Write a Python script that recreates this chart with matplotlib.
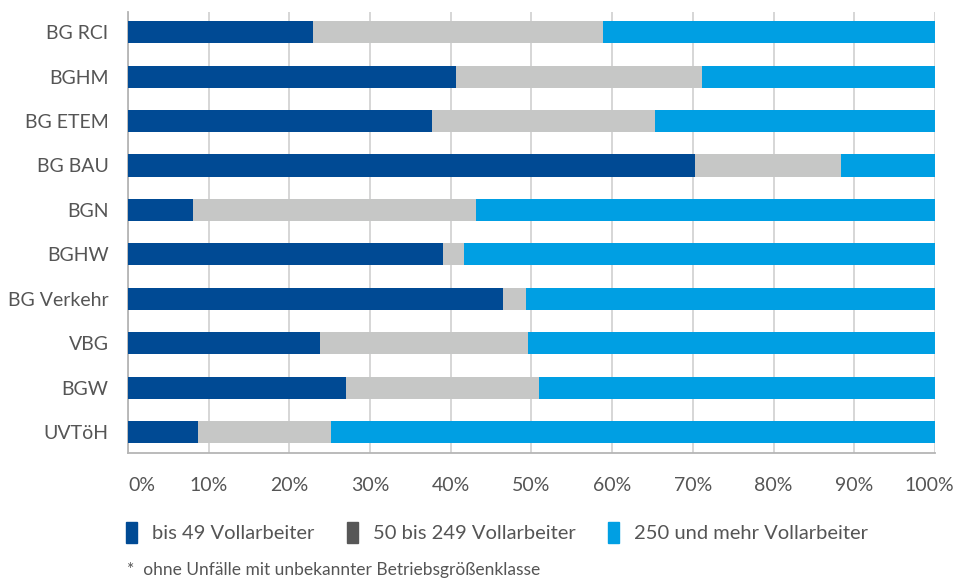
import numpy as np
import matplotlib as mpl
mpl.use("Agg")
import matplotlib.pyplot as plt
from matplotlib.patches import Patch
from matplotlib.transforms import ScaledTranslation

plt.rcParams['font.family'] = ['Lato', 'DejaVu Sans']

### data (share in percent)
categories = ["BG RCI", "BGHM", "BG ETEM", "BG BAU", "BGN", "BGHW",
              "BG Verkehr", "VBG", "BGW", "UVTöH"]
bis49 = [22.9, 40.6, 37.7, 70.3, 8.1, 39.0, 46.5, 23.8, 27.0, 8.7]
bis249 = [36.0, 30.5, 27.6, 18.1, 35.0, 2.6, 2.8, 25.8, 23.9, 16.5]
ab250 = [41.1, 28.9, 34.7, 11.6, 56.9, 58.4, 50.7, 50.4, 49.1, 74.8]
series_names = ["bis 49 Vollarbeiter", "50 bis 249 Vollarbeiter", "250 und mehr Vollarbeiter"]
xticks = [0, 10, 20, 30, 40, 50, 60, 70, 80, 90, 100]

c_dark = "#004a94"
c_grey = "#c6c7c6"
c_light = "#009fe3"
c_text = "#555555"

fig = plt.figure(figsize=(9.55, 5.8), dpi=100)
ax = fig.add_axes([0.134, 0.219, 0.845, 0.76])

y = np.arange(len(categories))
left1 = np.array(bis49)
left2 = left1 + np.array(bis249)
ax.barh(y, bis49, height=0.5, color=c_dark, zorder=3)
ax.barh(y, bis249, left=left1, height=0.5, color=c_grey, zorder=3)
ax.barh(y, ab250, left=left2, height=0.5, color=c_light, zorder=3)

ax.set_xlim(0, 100)
ax.set_ylim(len(categories) - 0.53, -0.45)
ax.set_yticks(y)
ax.set_yticklabels(categories)
ax.set_xticks(xticks)
ax.set_xticklabels([str(t) + "%" for t in xticks])
ax.tick_params(axis='both', length=0, labelsize=14, labelcolor=c_text)
ax.tick_params(axis='y', pad=14)
ax.tick_params(axis='x', pad=17)
xl = ax.get_xticklabels()
xl[0].set_ha('left')
xl[-1].set_ha('right')
xl[-1].set_transform(xl[-1].get_transform() + ScaledTranslation(0.19, 0, fig.dpi_scale_trans))

ax.grid(axis='x', color="#d0d0d0", linewidth=1.2, zorder=0)
for s in ['top', 'right']:
  ax.spines[s].set_visible(False)
for s in ['left', 'bottom']:
  ax.spines[s].set_color("#b5b5b5")
  ax.spines[s].set_linewidth(1.3)

handles = [Patch(color=c_dark), Patch(color="#575757"), Patch(color=c_light)]
fig.legend(handles, series_names, loc='center left', bbox_to_anchor=(0.113, 0.082),
           ncol=3, frameon=False, fontsize=14.5, labelcolor=c_text,
           handlelength=0.55, handleheight=1.2, handletextpad=0.75, columnspacing=1.6)

fig.text(0.133, 0.003, "*  ohne Unfälle mit unbekannter Betriebsgrößenklasse",
         fontsize=12.5, color=c_text, va='bottom')

fig.savefig("out.png", dpi=100)
